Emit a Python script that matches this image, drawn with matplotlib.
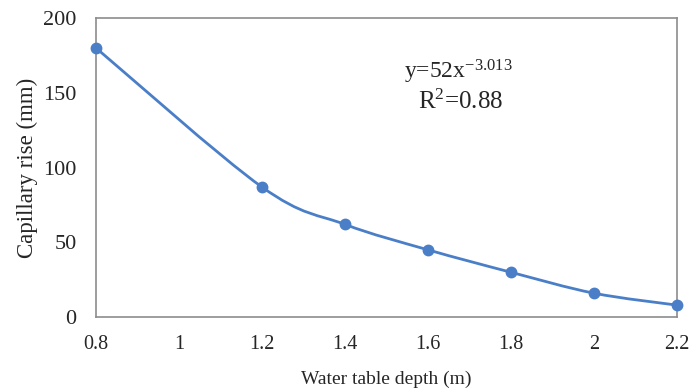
import matplotlib
matplotlib.use("Agg")
import matplotlib.pyplot as plt
from matplotlib.path import Path
from matplotlib.patches import PathPatch
import numpy as np

depth = [0.8, 1.2, 1.4, 1.6, 1.8, 2.0, 2.2]
rise = [180, 87, 62, 45, 30, 16, 8]
xticks = [0.8, 1, 1.2, 1.4, 1.6, 1.8, 2, 2.2]
xticklabels = ["0.8", "1", "1.2", "1.4", "1.6", "1.8", "2", "2.2"]
yticks = [0, 50, 100, 150, 200]

plt.rcParams['font.family'] = ['Liberation Serif', 'DejaVu Serif']
plt.rcParams['mathtext.fontset'] = 'custom'
plt.rcParams['mathtext.rm'] = 'Liberation Serif'
plt.rcParams['mathtext.it'] = 'Liberation Serif:italic'

txt = '#262626'
blue = '#4a7fc8'

fig = plt.figure(figsize=(6.9, 3.91), dpi=100)
ax = fig.add_axes([0.139, 0.189, 0.842, 0.765])

# smooth line (Catmull-Rom -> cubic Bezier, like Excel smoothed line)
P = np.column_stack([depth, rise]).astype(float)
verts = [tuple(P[0])]
codes = [Path.MOVETO]
n = len(P)
for i in range(n - 1):
    p0 = P[i - 1] if i > 0 else P[i]
    p1 = P[i]
    p2 = P[i + 1]
    p3 = P[i + 2] if i + 2 < n else P[i + 1]
    c1 = p1 + (p2 - p0) / 6.0
    c2 = p2 - (p3 - p1) / 6.0
    verts += [tuple(c1), tuple(c2), tuple(p2)]
    codes += [Path.CURVE4] * 3
ax.add_patch(PathPatch(Path(verts, codes), facecolor='none', edgecolor=blue, lw=2.0, zorder=3, clip_on=False))
ax.plot(depth, rise, linestyle='none', marker='o', markersize=7.5, color=blue, zorder=4, clip_on=False)

ax.set_xlim(0.8, 2.2)
ax.set_ylim(0, 200)
ax.set_xticks(xticks)
ax.set_xticklabels(xticklabels)
ax.set_yticks(yticks)
ax.tick_params(axis='x', length=0, labelsize=14.5, colors=txt, pad=13)
ax.tick_params(axis='y', length=0, labelsize=16, colors=txt, pad=14)
for s in ax.spines.values():
    s.set_color('#8c8c8c')
    s.set_linewidth(1.2)

ax.set_xlabel('Water table depth (m)', fontsize=14, color=txt, labelpad=12)
ax.set_ylabel('Capillary rise (mm)', fontsize=16.5, color=txt, labelpad=4)

ax.text(0.624, 0.82, r'y=52x$^{\mathrm{-3.013}}$', transform=ax.transAxes, ha='center', va='center', fontsize=17, color=txt)
ax.text(0.628, 0.72, r'R$^{\mathrm{2}}$=0.88', transform=ax.transAxes, ha='center', va='center', fontsize=18, color=txt)

fig.savefig('out.png', dpi=100)
